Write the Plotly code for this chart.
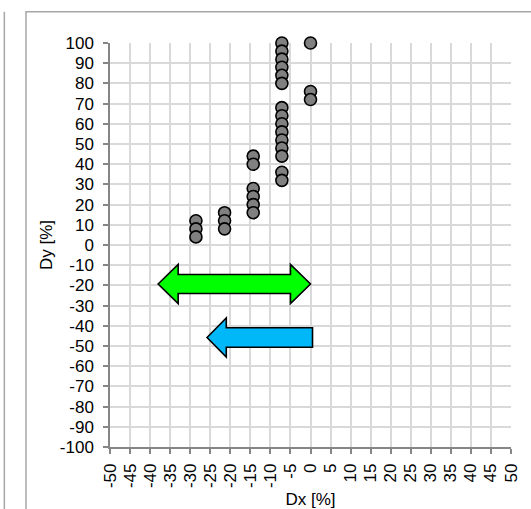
import plotly.graph_objects as go

# Data
dx_levels = [-28.57, -21.43, -14.29, -7.14, 0.0]
dy_groups = [
    [12, 8, 4],
    [16, 12, 8],
    [44, 40, 28, 24, 20, 16],
    [100, 96, 92, 88, 84, 80, 68, 64, 60, 56, 52, 48, 44, 36, 32],
    [100, 76, 72],
]
x_ticks = list(range(-50, 55, 5))
y_ticks = list(range(-100, 110, 10))

# arrow annotations (data coords): tip(s), head base(s), centre y, half heights
green_arrow = dict(left=-38, left_head=-33, right_head=-5, right=0, y=-19.3, shaft=4.7, head=9.7)
blue_arrow = dict(tip=-25.8, head_base=-21, end=0.5, y=-45.8, shaft=4.8, head=9.7)

xs, ys = [], []
for xv, grp in zip(dx_levels, dy_groups):
    for yv in grp:
        xs.append(xv)
        ys.append(yv)

fig = go.Figure()
fig.add_trace(go.Scatter(
    x=xs, y=ys, mode="markers", cliponaxis=False,
    marker=dict(size=12, color="#808080", line=dict(color="#000000", width=1.6)),
    showlegend=False, hoverinfo="skip",
))

g = green_arrow
gpath = (f"M {g['left']} {g['y']} L {g['left_head']} {g['y']+g['head']} L {g['left_head']} {g['y']+g['shaft']} "
         f"L {g['right_head']} {g['y']+g['shaft']} L {g['right_head']} {g['y']+g['head']} L {g['right']} {g['y']} "
         f"L {g['right_head']} {g['y']-g['head']} L {g['right_head']} {g['y']-g['shaft']} "
         f"L {g['left_head']} {g['y']-g['shaft']} L {g['left_head']} {g['y']-g['head']} Z")
b = blue_arrow
bpath = (f"M {b['tip']} {b['y']} L {b['head_base']} {b['y']+b['head']} L {b['head_base']} {b['y']+b['shaft']} "
         f"L {b['end']} {b['y']+b['shaft']} L {b['end']} {b['y']-b['shaft']} L {b['head_base']} {b['y']-b['shaft']} "
         f"L {b['head_base']} {b['y']-b['head']} Z")

shapes = [
    dict(type="path", path=gpath, xref="x", yref="y", fillcolor="#00FF00",
         line=dict(color="#000000", width=1.6), layer="above"),
    dict(type="path", path=bpath, xref="x", yref="y", fillcolor="#00B8F8",
         line=dict(color="#000000", width=1.6), layer="above"),
    # chart frame
    dict(type="rect", xref="paper", yref="paper", x0=-0.2095, x1=1.2, y0=-0.3, y1=1.0776,
         line=dict(color="#A6A6A6", width=1.5), fillcolor="rgba(0,0,0,0)", layer="below"),
    # neighbouring chart edge
    dict(type="line", xref="paper", yref="paper", x0=-0.2635, x1=-0.2635, y0=-0.3, y1=1.0776,
         line=dict(color="#A6A6A6", width=1.5)),
]

font = "Liberation Sans, Arial, sans-serif"
fig.update_layout(
    width=531, height=509,
    margin=dict(l=110, r=20, t=43, b=62, autoexpand=False),
    paper_bgcolor="white", plot_bgcolor="white",
    font=dict(family=font, size=17, color="#000000"),
    shapes=shapes,
    xaxis=dict(
        range=[-50, 50], tickmode="array", tickvals=x_ticks, ticktext=[str(v) for v in x_ticks],
        tickangle=-90, showgrid=True, gridcolor="#D9D9D9", gridwidth=1.5,
        showline=True, linecolor="#868686", linewidth=1.5,
        ticks="outside", ticklen=5, tickcolor="#868686", tickwidth=1.5,
        zeroline=False, tickfont=dict(size=17), ticklabelstandoff=3,
        title=dict(text="Dx [%]", font=dict(size=17), standoff=6),
    ),
    yaxis=dict(
        range=[-100, 100], tickmode="array", tickvals=y_ticks, ticktext=[str(v) for v in y_ticks],
        showgrid=True, gridcolor="#D9D9D9", gridwidth=1.5,
        showline=True, linecolor="#868686", linewidth=1.5,
        ticks="outside", ticklen=5, tickcolor="#868686", tickwidth=1.5,
        zeroline=False, tickfont=dict(size=17), ticklabelstandoff=6,
        title=dict(text="Dy [%]", font=dict(size=17), standoff=3),
    ),
)

fig.write_html("out.html", config={"displayModeBar": False},
               post_script="document.body.style.margin='0px';")
